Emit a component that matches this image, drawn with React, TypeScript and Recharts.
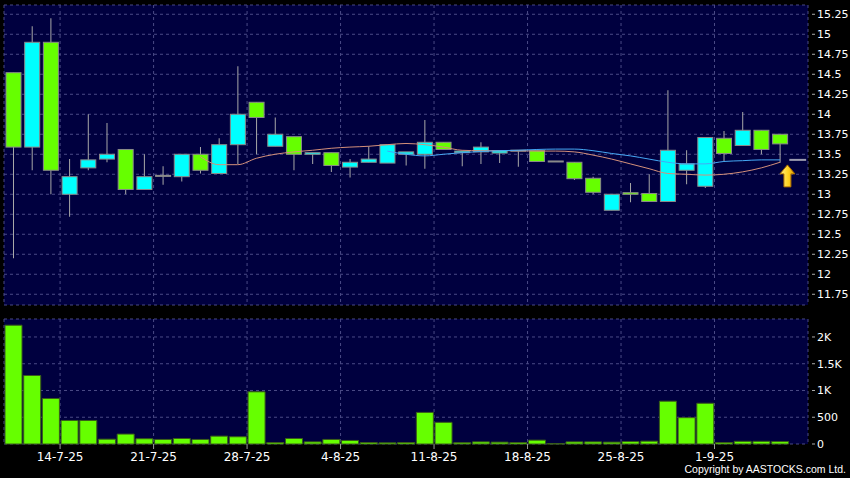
import React from "react";
import { ComposedChart, Bar, Line, XAxis, YAxis, CartesianGrid, ReferenceLine, ReferenceDot } from "recharts";

// daily candles, 9-7-25 .. 4-9-25
const opens = [13.59, 14.9, 13.3, 13.22, 13.43, 13.5, 13.06, 13.22, 13.23, 13.5, 13.3, 13.62, 14.0, 13.96, 13.75, 13.5, 13.52, 13.36, 13.4, 13.44, 13.62, 13.53, 13.65, 13.56, 13.54, 13.59, 13.545, 13.545, 13.41, 13.41, 13.195, 13.025, 13.0, 13.0, 12.91, 13.55, 13.38, 13.71, 13.51, 13.8, 13.56, 13.63];
const highs = [14.52, 15.1, 15.2, 13.44, 14.0, 13.89, 13.56, 13.5, 13.35, 13.5, 13.59, 13.7, 14.6, 14.15, 13.96, 13.72, 13.52, 13.52, 13.44, 13.6, 13.62, 13.53, 13.93, 13.65, 13.54, 13.65, 13.545, 13.545, 13.545, 13.41, 13.4, 13.22, 13.0, 13.14, 13.25, 14.3, 13.55, 13.71, 13.79, 14.03, 13.8, 13.75];
const lows = [12.2, 13.3, 13.0, 12.72, 13.3, 13.4, 13.0, 13.06, 13.12, 13.16, 13.26, 13.26, 13.38, 13.5, 13.6, 13.3, 13.38, 13.28, 13.21, 13.4, 13.39, 13.36, 13.32, 13.56, 13.35, 13.38, 13.39, 13.345, 13.41, 13.41, 13.18, 13.0, 12.8, 12.9, 12.91, 12.91, 13.125, 13.08, 13.41, 13.61, 13.5, 13.395];
const closes = [14.52, 13.59, 14.9, 13.0, 13.33, 13.44, 13.56, 13.06, 13.23, 13.22, 13.5, 13.26, 13.62, 14.15, 13.6, 13.72, 13.5, 13.52, 13.34, 13.4, 13.39, 13.5, 13.5, 13.65, 13.52, 13.53, 13.515, 13.545, 13.545, 13.41, 13.4, 13.2, 12.8, 13.02, 13.01, 12.91, 13.3, 13.1, 13.7, 13.61, 13.8, 13.75];
const volumes = [2220, 1280, 850, 440, 440, 90, 185, 98, 85, 103, 85, 147, 135, 975, 28, 103, 40, 85, 66, 28, 22, 28, 590, 405, 25, 40, 35, 28, 72, 6, 40, 40, 35, 45, 53, 800, 492, 761, 28, 50, 50, 45];
const ma10 = [null, null, null, null, null, null, null, null, null, null, 13.47, 13.37, 13.37, 13.45, 13.5, 13.53, 13.55, 13.575, 13.59, 13.6, 13.62, 13.635, 13.62, 13.59, 13.55, 13.545, 13.545, 13.545, 13.54, 13.54, 13.53, 13.49, 13.44, 13.38, 13.32, 13.26, 13.25, 13.24, 13.25, 13.28, 13.33, 13.4];
const ma20 = [null, null, null, null, null, null, null, null, null, null, null, null, null, null, null, null, null, null, null, null, 13.54, 13.5, 13.48, 13.5, 13.52, 13.535, 13.545, 13.55, 13.56, 13.565, 13.565, 13.545, 13.51, 13.48, 13.44, 13.4, 13.38, 13.38, 13.41, 13.42, 13.43, 13.43];

const weekLabels = ["14-7-25", "21-7-25", "28-7-25", "4-8-25", "11-8-25", "18-8-25", "25-8-25", "1-9-25"];
const weekStarts = [3, 8, 13, 18, 23, 28, 33, 38];
const priceTicks = [11.75, 12, 12.25, 12.5, 12.75, 13, 13.25, 13.5, 13.75, 14, 14.25, 14.5, 14.75, 15, 15.25];
const volumeTicks = [0, 500, 1000, 1500, 2000];
const lastPrice = 13.43;

const NAVY = "#00003f";
const GRID = "#4a4a86";
const GREEN = "#66ff00";
const CYAN = "#00ffff";
const FONT = "DejaVu Sans";

const data = opens.map((o, i) => ({
  i,
  wick: [lows[i], highs[i]],
  body: [Math.min(o, closes[i]), Math.max(o, closes[i])],
  up: closes[i] > o,
  vol: volumes[i],
  ma10: ma10[i],
  ma20: ma20[i],
}));

const tickPos = weekStarts.map((s) => s - 0.5);
const xDomain: [number, number] = [-0.5, 42.5];

function CandleBody(props: any) {
  const { x, y, width, height, payload } = props;
  if (x == null || y == null) return null;
  const top = Math.min(y, y + height);
  const h = Math.abs(height);
  const flat = h < 1;
  const fill = flat ? "#9a9a9a" : payload.up ? GREEN : CYAN;
  return <rect x={x} y={flat ? top - 0.5 : top} width={width} height={flat ? 1 : h} fill={fill} stroke="#8a8a8a" strokeWidth={1} />;
}

function RightTick(props: any) {
  const { x, y, payload, fmt } = props;
  return (
    <g>
      <line x1={x + 4} x2={x + 7} y1={y} y2={y} stroke="#aaaaaa" />
      <text x={x + 9} y={y} dy={4} fill="#ffffff" fontSize={11} fontFamily={FONT}>
        {fmt(payload.value)}
      </text>
    </g>
  );
}

function Arrow(props: any) {
  const { cx, cy } = props;
  if (cx == null || cy == null) return null;
  const pts = [
    [cx, cy - 11],
    [cx + 7.5, cy - 2],
    [cx + 3.5, cy - 2],
    [cx + 3.5, cy + 11],
    [cx - 3.5, cy + 11],
    [cx - 3.5, cy - 2],
    [cx - 7.5, cy - 2],
  ]
    .map((p) => p.join(","))
    .join(" ");
  return (
    <g>
      <defs>
        <linearGradient id="arrowFill" x1="0" y1="0" x2="1" y2="0">
          <stop offset="0%" stopColor="#fff08a" />
          <stop offset="55%" stopColor="#ffd21f" />
          <stop offset="100%" stopColor="#e09a00" />
        </linearGradient>
      </defs>
      <polygon points={pts} fill="url(#arrowFill)" stroke="#a86a00" strokeWidth={1} />
    </g>
  );
}

const priceFmt = (v: number) => String(v);
const volFmt = (v: number) => (v >= 1000 ? `${v / 1000}K` : String(v));
const dateFmt = (v: number) => weekLabels[tickPos.indexOf(v)] ?? "";

export default function App() {
  return (
    <div style={{ position: "absolute", left: 0, top: 0, width: 850, height: 478, background: "#000", overflow: "hidden" }}>
      <div style={{ position: "absolute", left: 0, top: 0 }}>
        <ComposedChart width={850} height={310} data={data} margin={{ top: 5, right: 2, bottom: 5, left: 4 }}>
          <CartesianGrid fill={NAVY} stroke={GRID} strokeDasharray="3 3" />
          <XAxis dataKey="i" type="number" domain={xDomain} ticks={tickPos} hide />
          <XAxis xAxisId="w" dataKey="i" type="number" domain={xDomain} ticks={tickPos} hide />
          <YAxis
            orientation="right"
            width={40}
            domain={[11.616, 15.366]}
            ticks={priceTicks}
            interval={0}
            axisLine={false}
            tickLine={false}
            tickSize={0}
            tickMargin={0}
            tick={<RightTick fmt={priceFmt} />}
          />
          <Bar xAxisId="w" dataKey="wick" barSize={1} fill="#a8a8a8" isAnimationActive={false} />
          <Bar dataKey="body" barSize={15} shape={<CandleBody />} isAnimationActive={false} />
          <Line dataKey="ma10" type="monotone" stroke="#d4907a" strokeWidth={1} dot={false} isAnimationActive={false} />
          <Line dataKey="ma20" type="monotone" stroke="#45a8f5" strokeWidth={1} dot={false} isAnimationActive={false} />
          <ReferenceLine
            segment={[
              { x: 41.5, y: lastPrice },
              { x: 42.4, y: lastPrice },
            ]}
            stroke="#9c9cb0"
            strokeWidth={2}
          />
          <ReferenceDot x={41.4} y={13.23} r={0} shape={<Arrow />} />
        </ComposedChart>
      </div>
      <div style={{ position: "absolute", left: 0, top: 310 }}>
        <ComposedChart width={850} height={168} data={data} margin={{ top: 9, right: 2, bottom: 0, left: 4 }}>
          <CartesianGrid fill={NAVY} stroke={GRID} strokeDasharray="3 3" />
          <XAxis
            dataKey="i"
            type="number"
            domain={xDomain}
            ticks={tickPos}
            interval={0}
            height={34}
            tickSize={5}
            tickMargin={3}
            axisLine={false}
            tickLine={{ stroke: "#999999" }}
            tick={{ fill: "#ffffff", fontSize: 12, fontFamily: FONT }}
            tickFormatter={dateFmt}
          />
          <YAxis
            orientation="right"
            width={40}
            domain={[0, 2336]}
            ticks={volumeTicks}
            interval={0}
            axisLine={false}
            tickLine={false}
            tickSize={0}
            tickMargin={0}
            tick={<RightTick fmt={volFmt} />}
          />
          <Bar dataKey="vol" barSize={17} fill={GREEN} stroke="#3a5c1a" isAnimationActive={false} />
        </ComposedChart>
      </div>
      <svg style={{ position: "absolute", left: 0, top: 0 }} width={850} height={478}>
        <text x={846} y={473} textAnchor="end" fill="#ffffff" fontSize={10.5} fontFamily="Liberation Sans">
          Copyright by AASTOCKS.com Ltd.
        </text>
      </svg>
    </div>
  );
}
